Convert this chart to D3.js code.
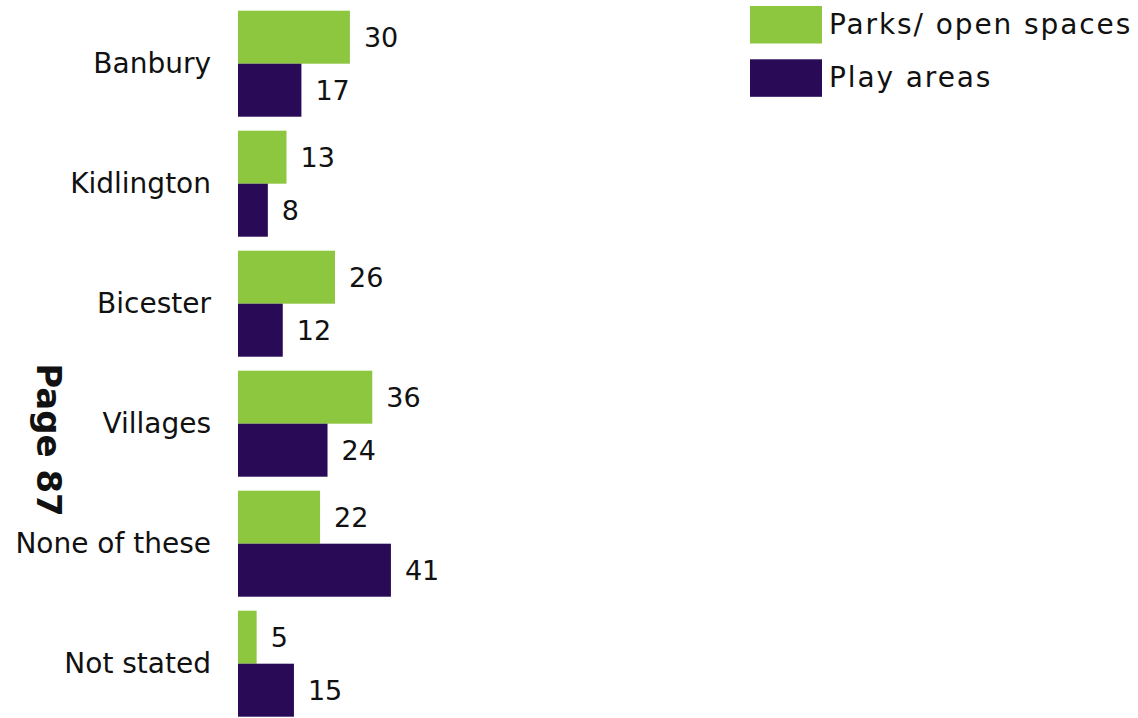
<!DOCTYPE html>
<html>
<head>
<meta charset="utf-8">
<script src="https://cdn.jsdelivr.net/npm/d3@7"></script>
<style>
  html, body { margin: 0; padding: 0; background: #fff; }
  svg { display: block; }
  text { font-family: "DejaVu Sans", sans-serif; fill: #111; }
</style>
</head>
<body>
<svg id="chart" width="1138" height="718"></svg>
<script>
// Survey responses by area
const categories = ["Banbury", "Kidlington", "Bicester", "Villages", "None of these", "Not stated"];
const seriesNames = ["Parks/ open spaces", "Play areas"];
const parksValues = [30, 13, 26, 36, 22, 5];
const playValues = [17, 8, 12, 24, 41, 15];
const seriesColors = ["#8dc63f", "#290a57"];

const rows = categories.map((c, i) => ({ category: c, values: [parksValues[i], playValues[i]] }));

const svg = d3.select("#chart");
const labelSize = 28;
const valueSize = 27;

const x = d3.scaleLinear().domain([0, 10]).range([238, 275.3]);

const y = d3.scaleBand()
  .domain(categories)
  .range([3.7, 723.7])
  .paddingInner(14 / 120)
  .paddingOuter(7 / 120);

const ySub = d3.scaleBand()
  .domain([0, 1])
  .range([0, y.bandwidth()]);

const groups = svg.append("g").selectAll("g")
  .data(rows)
  .join("g")
  .attr("transform", d => `translate(0,${y(d.category)})`);

groups.selectAll("rect")
  .data(d => d.values.map((v, k) => ({ v, k })))
  .join("rect")
  .attr("x", x(0))
  .attr("y", d => ySub(d.k))
  .attr("width", d => x(d.v) - x(0))
  .attr("height", ySub.bandwidth())
  .attr("fill", d => seriesColors[d.k]);

groups.selectAll("text.val")
  .data(d => d.values.map((v, k) => ({ v, k })))
  .join("text")
  .attr("class", "val")
  .attr("x", d => x(d.v) + 14)
  .attr("y", d => ySub(d.k) + ySub.bandwidth() / 2)
  .attr("dy", "0.36em")
  .attr("font-size", valueSize)
  .text(d => d.v);

// Category axis labels
const yAxis = d3.axisLeft(y).tickSize(0).tickPadding(27);
const axisG = svg.append("g")
  .attr("transform", `translate(${x(0)},0)`)
  .call(yAxis);
axisG.select(".domain").remove();
axisG.selectAll("text")
  .attr("font-size", labelSize)
  .attr("font-family", "DejaVu Sans, sans-serif")
  .attr("fill", "#111");

// Legend
const legend = svg.append("g").attr("transform", "translate(750,6)");
const items = legend.selectAll("g")
  .data(seriesNames)
  .join("g")
  .attr("transform", (d, i) => `translate(0,${i * 53.3})`);
items.append("rect")
  .attr("width", 72)
  .attr("height", 37.5)
  .attr("fill", (d, i) => seriesColors[i]);
items.append("text")
  .attr("x", 79)
  .attr("y", 28)
  .attr("font-size", labelSize)
  .attr("letter-spacing", 1.9)
  .text(d => d);

// Page marker
svg.append("text")
  .attr("transform", "translate(37,440) rotate(90)")
  .attr("text-anchor", "middle")
  .attr("font-size", 34)
  .attr("font-weight", "bold")
  .attr("font-family", "Liberation Sans, Arial, sans-serif")
  .attr("fill", "#000")
  .text("Page 87");
</script>
</body>
</html>
